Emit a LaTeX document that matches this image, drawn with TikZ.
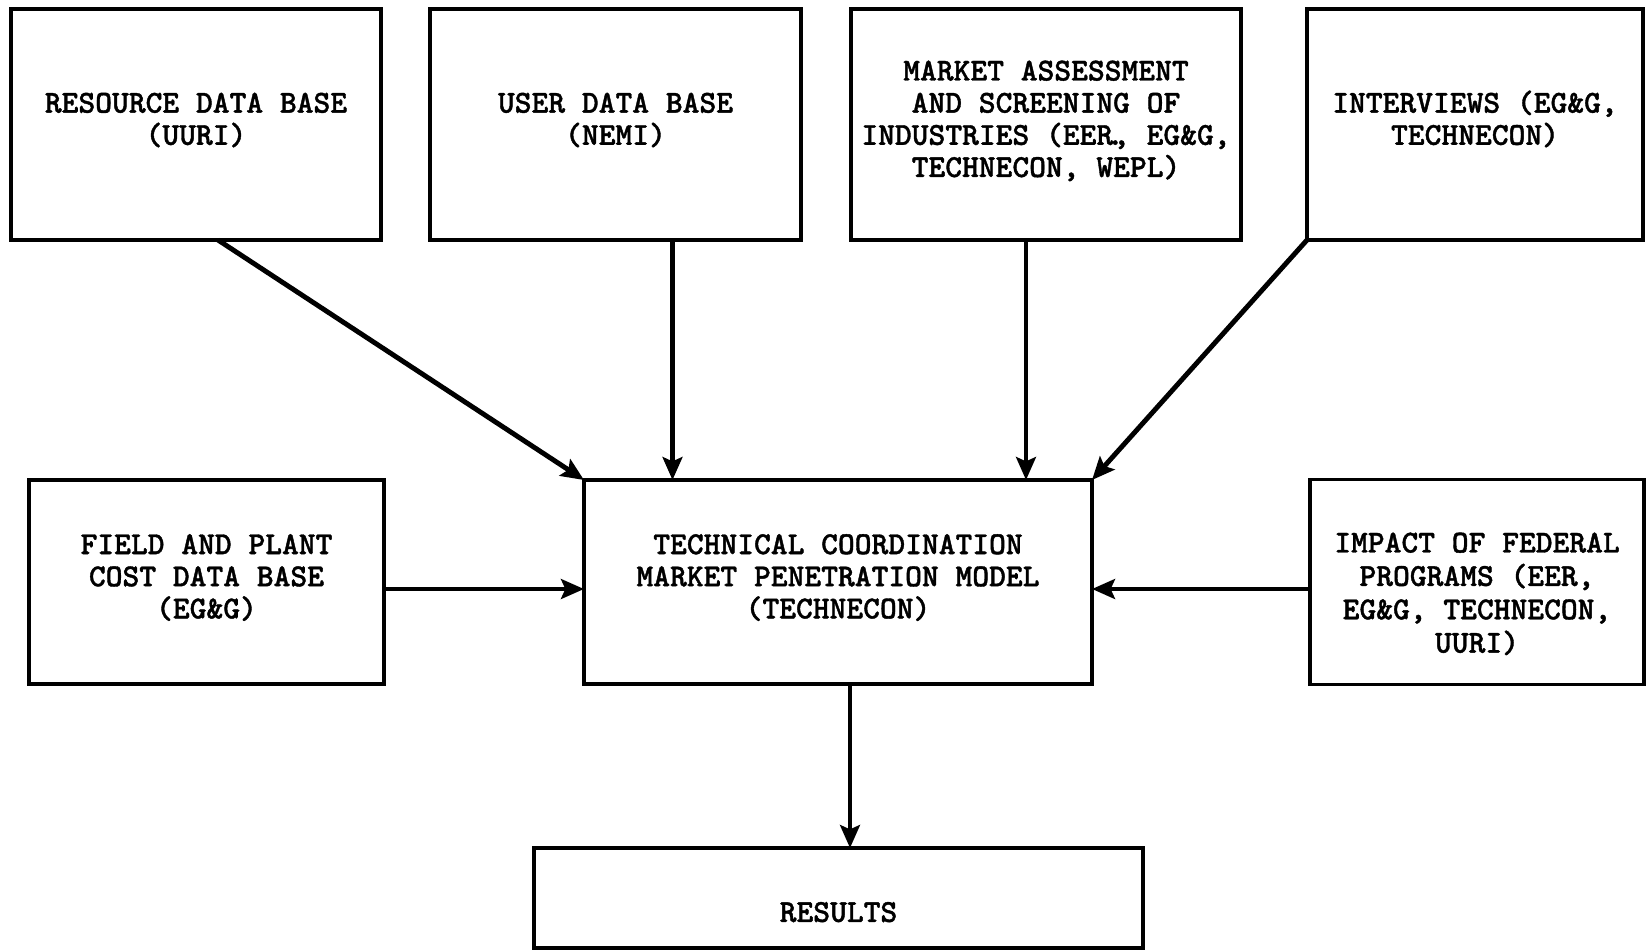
\documentclass[tikz,border=0pt]{standalone}
\usepackage{fontspec}
\newfontfamily\typer{lmmonolt10-bold.otf}[FakeBold=1.2]
\usetikzlibrary{arrows.meta}

\tikzset{
  blk/.style={draw, line width=0.9pt, inner sep=0pt, outer sep=0pt, align=center,
    font=\fontsize{9.1pt}{9.15pt}\selectfont\typer},
  tx/.style 2 args={text height=#1, text depth=#2},
  feed/.style={line width=1.4pt, -{Stealth[length=6.5pt,width=5.6pt,inset=1.2pt]}}
}

\begin{document}
\begin{tikzpicture}[x=0.1mm, y=-0.1mm]
			% Frame
			\useasboundingbox (0,0) rectangle (1646,951);
			\def\toprow{124.5}
			\def\midrow{582}
			\def\toph{23.1mm}
			\def\midh{20.4mm}

			% Sources along the top
			\node[blk, tx={23.15pt}{11.6pt}, minimum width=37mm, minimum height=\toph] (res) at (196,\toprow) {RESOURCE DATA BASE\\(UURI)};
			\node[blk, tx={23.15pt}{11.6pt}, minimum width=37.1mm, minimum height=\toph] (usr) at (615.5,\toprow) {USER DATA BASE\\(NEMI)};
			\node[blk, tx={41.45pt}{11.6pt}, minimum width=39mm, minimum height=\toph] (mkt) at (1046,\toprow) {MARKET ASSESSMENT\\AND SCREENING OF\\INDUSTRIES (EER\kern-.2em.\kern-.33em, EG\&G,\\TECHNECON, WEPL)};
			\node[blk, tx={23.15pt}{11.6pt}, minimum width=33.6mm, minimum height=\toph] (ivw) at (1475,\toprow) {INTERVIEWS (EG\&G,\\TECHNECON)};

			% Middle row
			\node[blk, tx={32.3pt}{11.6pt}, minimum width=35.5mm, minimum height=\midh] (fld) at (206.5,\midrow) {FIELD AND PLANT\\COST DATA BASE\\(EG\&G)};
			\node[blk, tx={32.3pt}{11.6pt}, minimum width=50.8mm, minimum height=\midh] (core) at (838,\midrow) {TECHNICAL COORDINATION\\MARKET PENETRATION MODEL\\(TECHNECON)};
			\node[blk, tx={42.5pt}{2.3pt}, font=\fontsize{9.1pt}{9.5pt}\selectfont\typer, minimum width=33.4mm, minimum height=20.5mm] (imp) at (1477,\midrow) {IMPACT OF FEDERAL\\PROGRAMS (EER,\\EG\&G, TECHNECON,\\UURI)};

			% Output
			\node[blk, tx={14pt}{0.4pt}, minimum width=60.9mm, minimum height=10mm] (out) at (838.5,898) {RESULTS};

			% Flows into the model
			\draw[feed] ([xshift=2.2mm]res.south) -- (core.north west);
			\draw[feed] ([xshift=5.7mm]usr.south) -- ([xshift=5.7mm]usr.south |- core.north);
			\draw[feed] ([xshift=-2mm]mkt.south) -- ([xshift=-2mm]mkt.south |- core.north);
			\draw[feed] (ivw.south west) -- (core.north east);
			\draw[feed] ([yshift=-0.7mm]fld.east) -- ([yshift=-0.7mm]fld.east -| core.west);
			\draw[feed] ([yshift=-0.7mm]imp.west) -- ([yshift=-0.7mm]imp.west -| core.east);
			\draw[feed] ([xshift=1.2mm]core.south) -- ([xshift=1.2mm]core.south |- out.north);
		\end{tikzpicture}
\end{document}
